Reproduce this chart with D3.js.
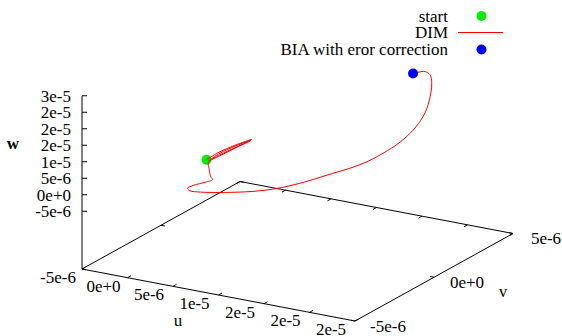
<!DOCTYPE html>
<html>
<head>
<meta charset="utf-8">
<script src="https://cdnjs.cloudflare.com/ajax/libs/d3/7.8.5/d3.min.js"></script>
<style>
  body { margin: 0; background: #fff; }
  svg { display: block; }
</style>
</head>
<body>
<div id="chart"></div>
<script>
const width = 562, height = 336;

// DIM trajectory, values in units of 1e-6
const uData = [0, 1.26, 3.13, 4.95, 3.24, 1.48, 0.27, 1.48, 3.24, 4.84, 3.13, 1.48, 0.22,
  0.62, 1.31, 2.05, 1.92, 1.40, 1.38, 2.18, 3.63, 5.62, 7.99,
  10.19, 12.22, 14.44, 15.79, 17.03, 18.37, 19.72, 20.79,
  21.61, 22.00, 22.05, 21.56, 21.02, 20.41, 19.70, 18.80, 17.97, 17.14];
const vData = [0, 0, 0, 0, 0, 0, 0, 0, 0, 0, 0, 0, 0,
  -0.2, -0.5, -0.8, -1.2, -1.6, -2.0, -2.3, -2.5, -2.7, -2.8,
  -2.8, -2.7, -2.4, -2.1, -1.8, -1.5, -1.2, -0.8,
  -0.2, 0.4, 1.0, 1.6, 2.1, 2.5, 2.8, 3.0, 3.1, 3.2];
const wData = [0, 2.76, 6.01, 8.69, 5.46, 2.27, -0.18, 2.72, 5.92, 8.33, 5.10, 1.97, -0.67,
  -1.74, -3.01, -2.89, -2.65, -2.77, -2.63, -2.18, -1.28, 0.18, 1.75,
  3.21, 4.76, 6.80, 8.23, 9.60, 11.03, 12.91, 14.98,
  17.16, 19.41, 21.94, 23.57, 25.90, 27.55, 28.65, 28.62, 27.77, 26.61];

// single points (u, v, w) in units of 1e-6
const startPoint = [0, 0, 0];
const biaPoint = [17.14, 3.2, 26.61];

const uTicks = [-5e-6, 0, 5e-6, 1e-5, 1.5e-5, 2e-5, 2.5e-5];
const uTickLabels = ["-5e-6", "0e+0", "5e-6", "1e-5", "2e-5", "2e-5", "2e-5"];
const vTicks = [-5e-6, 0, 5e-6];
const vTickLabels = ["-5e-6", "0e+0", "5e-6"];
const wTicks = [-5e-6, 0, 5e-6, 1e-5, 1.5e-5, 2e-5, 2.5e-5, 3e-5];
const wTickLabels = ["-5e-6", "0e+0", "5e-6", "1e-5", "2e-5", "2e-5", "2e-5", "3e-5"];

const legendLabels = ["start", "DIM", "BIA with eror correction"];

const E6 = 1e-6;
const FONT = "'Liberation Serif', 'Times New Roman', serif";

// projection of the 3d box onto the page
const origin = [82, 269];
const uVec = [273, 52];
const vVec = [158, -87.5];
const zHeight = 115.5;
const ticsLevel = 0.5;

const uScale = d3.scaleLinear().domain([-5e-6, 2.5e-5]).range([0, 1]);
const vScale = d3.scaleLinear().domain([-5e-6, 5e-6]).range([0, 1]);
const wScale = d3.scaleLinear().domain([-5e-6, 3e-5])
    .range([ticsLevel * zHeight, (ticsLevel + 1) * zHeight]);

function project(u, v, w) {
    const a = uScale(u), b = vScale(v);
    const h = w == null ? 0 : wScale(w);
    return [origin[0] + a * uVec[0] + b * vVec[0],
            origin[1] + a * uVec[1] + b * vVec[1] - h];
}

function unit(vec) {
    const l = Math.hypot(vec[0], vec[1]);
    return [vec[0] / l, vec[1] / l];
}

const svg = d3.select("#chart").append("svg")
    .attr("width", width)
    .attr("height", height)
    .attr("font-family", FONT)
    .attr("font-size", 17);

const uMin = uScale.domain()[0], uMax = uScale.domain()[1];
const vMin = vScale.domain()[0], vMax = vScale.domain()[1];
const wMax = wScale.domain()[1];

const axes = svg.append("g")
    .attr("stroke", "#000")
    .attr("stroke-width", 1)
    .attr("fill", "none");

// base of the box
const base = [project(uMin, vMin), project(uMax, vMin), project(uMax, vMax), project(uMin, vMax)];
axes.append("path")
    .attr("d", d3.line()(base) + "Z");

// vertical w axis
axes.append("path")
    .attr("d", d3.line()([project(uMin, vMin), project(uMin, vMin, wMax)]));

const tickLen = 4;
const uDir = unit(uVec), vDir = unit(vVec);

// u ticks, front edge and mirrored on the back edge
uTicks.forEach(t => {
    const p = project(t, vMin), q = project(t, vMax);
    axes.append("line")
        .attr("x1", p[0]).attr("y1", p[1])
        .attr("x2", p[0] + vDir[0] * tickLen).attr("y2", p[1] + vDir[1] * tickLen);
    axes.append("line")
        .attr("x1", q[0]).attr("y1", q[1])
        .attr("x2", q[0] - vDir[0] * tickLen).attr("y2", q[1] - vDir[1] * tickLen);
});

// v ticks
vTicks.forEach(t => {
    const p = project(uMax, t), q = project(uMin, t);
    axes.append("line")
        .attr("x1", p[0]).attr("y1", p[1])
        .attr("x2", p[0] - uDir[0] * tickLen).attr("y2", p[1] - uDir[1] * tickLen);
    axes.append("line")
        .attr("x1", q[0]).attr("y1", q[1])
        .attr("x2", q[0] + uDir[0] * tickLen).attr("y2", q[1] + uDir[1] * tickLen);
});

// w ticks
wTicks.forEach(t => {
    const p = project(uMin, vMin, t);
    axes.append("line")
        .attr("x1", p[0]).attr("y1", p[1])
        .attr("x2", p[0] + 5).attr("y2", p[1]);
});

// tick labels
const labels = svg.append("g").attr("fill", "#000");

uTicks.forEach((t, i) => {
    const p = project(t, vMin);
    labels.append("text")
        .attr("x", p[0] - 24).attr("y", p[1] + 8)
        .attr("dy", "0.35em")
        .attr("text-anchor", "middle")
        .text(uTickLabels[i]);
});

vTicks.forEach((t, i) => {
    const p = project(uMax, t);
    labels.append("text")
        .attr("x", p[0] + 33).attr("y", p[1] + 5)
        .attr("dy", "0.35em")
        .attr("text-anchor", "middle")
        .text(vTickLabels[i]);
});

wTicks.forEach((t, i) => {
    const p = project(uMin, vMin, t);
    labels.append("text")
        .attr("x", 71).attr("y", p[1])
        .attr("dy", "0.35em")
        .attr("text-anchor", "end")
        .text(wTickLabels[i]);
});

// axis titles
labels.append("text").attr("x", 178).attr("y", 320).attr("dy", "0.35em")
    .attr("text-anchor", "middle").text("u");
labels.append("text").attr("x", 503).attr("y", 291).attr("dy", "0.35em")
    .attr("text-anchor", "middle").text("v");
labels.append("text").attr("x", 13).attr("y", 143).attr("dy", "0.35em")
    .attr("text-anchor", "middle").attr("font-weight", "bold").text("w");

// start point
const sp = project(startPoint[0] * E6, startPoint[1] * E6, startPoint[2] * E6);
svg.append("circle")
    .attr("cx", sp[0]).attr("cy", sp[1]).attr("r", 5)
    .attr("fill", "#00ee00");

// DIM trajectory
const traj = uData.map((u, i) => project(u * E6, vData[i] * E6, wData[i] * E6));
svg.append("path")
    .attr("d", d3.line().curve(d3.curveCatmullRom.alpha(0.5))(traj))
    .attr("fill", "none")
    .attr("stroke", "#ff0000")
    .attr("stroke-width", 1);

// BIA point
const bp = project(biaPoint[0] * E6, biaPoint[1] * E6, biaPoint[2] * E6);
svg.append("circle")
    .attr("cx", bp[0]).attr("cy", bp[1]).attr("r", 5)
    .attr("fill", "#0000ff");

// legend
const legend = svg.append("g").attr("fill", "#000");
const rowY = [16, 32.5, 49.5];
legendLabels.forEach((name, i) => {
    legend.append("text")
        .attr("x", 448).attr("y", rowY[i]).attr("dy", "0.35em")
        .attr("text-anchor", "end")
        .text(name);
});
legend.append("circle").attr("cx", 481.5).attr("cy", rowY[0]).attr("r", 5).attr("fill", "#00ee00");
legend.append("line")
    .attr("x1", 458).attr("x2", 503).attr("y1", rowY[1]).attr("y2", rowY[1])
    .attr("stroke", "#ff0000").attr("stroke-width", 1);
legend.append("circle").attr("cx", 481.5).attr("cy", rowY[2]).attr("r", 5).attr("fill", "#0000ff");
</script>
</body>
</html>
